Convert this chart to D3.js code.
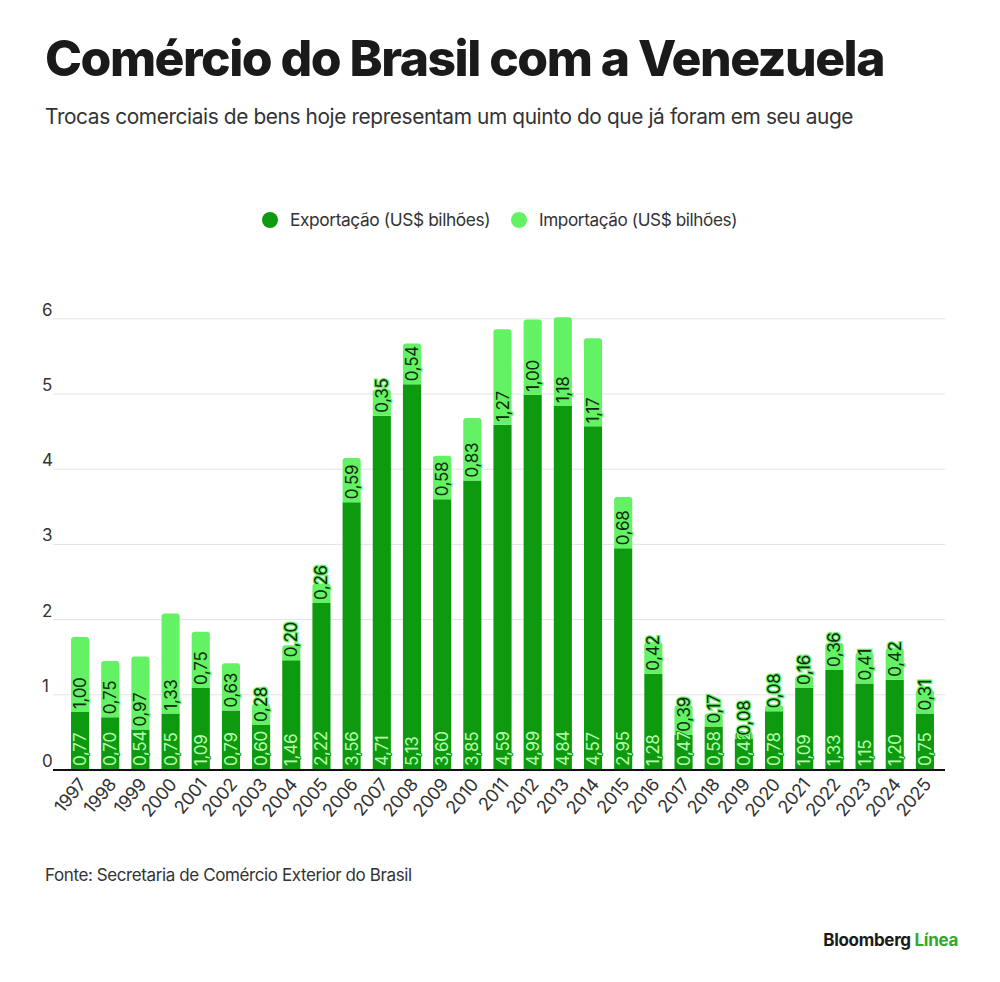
<!DOCTYPE html>
<html>
<head>
<meta charset="utf-8">
<script src="https://cdn.jsdelivr.net/npm/d3@7"></script>
<style>
  body { margin: 0; background: #fff; }
  svg { display: block; font-family: Inter, "Noto Sans", sans-serif; }
</style>
</head>
<body>
<svg id="chart" width="1000" height="982"></svg>
<script>
// data
var years = ['1997','1998','1999','2000','2001','2002','2003','2004','2005','2006','2007','2008','2009','2010','2011','2012','2013','2014','2015','2016','2017','2018','2019','2020','2021','2022','2023','2024','2025'];
var exportacao = [0.77,0.70,0.54,0.75,1.09,0.79,0.60,1.46,2.22,3.56,4.71,5.13,3.60,3.85,4.59,4.99,4.84,4.57,2.95,1.28,0.47,0.58,0.42,0.78,1.09,1.33,1.15,1.20,0.75];
var importacao = [1.00,0.75,0.97,1.33,0.75,0.63,0.28,0.20,0.26,0.59,0.35,0.54,0.58,0.83,1.27,1.00,1.18,1.17,0.68,0.42,0.39,0.17,0.08,0.08,0.16,0.36,0.41,0.42,0.31];
var yTicks = [0,1,2,3,4,5,6];
var seriesNames = ['Exportação (US$ bilhões)', 'Importação (US$ bilhões)'];

var darkGreen = '#0e9a0e', lightGreen = '#63f263';
var fmt = function(v) { return d3.format('.2f')(v).replace('.', ','); };

var svg = d3.select('#chart');

// title + subtitle
var title = svg.append('text')
	.attr('x', 45).attr('y', 76)
	.attr('font-size', 46).attr('font-weight', 800)
	.attr('letter-spacing', '-1.5px')
	.attr('fill', '#1a1a1a')
	.text('Comércio do Brasil com a Venezuela');
var tw = title.node().getComputedTextLength();
title.attr('font-size', 46 * 835 / tw);

var sub = svg.append('text')
	.attr('x', 45).attr('y', 124)
	.attr('font-size', 19).attr('letter-spacing', '-0.4px')
	.attr('fill', '#333')
	.text('Trocas comerciais de bens hoje representam um quinto do que já foram em seu auge');
var sw = sub.node().getComputedTextLength();
sub.attr('font-size', 19 * 805 / sw);

// legend
var legend = svg.append('g').attr('transform', 'translate(0,220)');
var legX = [270, 519];
seriesNames.forEach(function(name, i) {
	legend.append('circle').attr('cx', legX[i]).attr('cy', 0).attr('r', 8)
		.attr('fill', i === 0 ? darkGreen : lightGreen);
	var t = legend.append('text').attr('x', legX[i] + 20).attr('y', 6)
		.attr('font-size', 17).attr('fill', '#333').attr('letter-spacing', '-0.4px')
		.text(name);
	var lw = t.node().getComputedTextLength();
	t.attr('font-size', 17 * (i === 0 ? 200 : 198) / lw);
});

// scales
var x = d3.scaleBand().domain(years).range([65, 940]).paddingInner(0.4).paddingOuter(0.2);
var y = d3.scaleLinear().domain([0, 6]).range([770, 318.8]);

// grid + y labels
var grid = svg.append('g');
grid.selectAll('line').data(yTicks.slice(1)).enter().append('line')
	.attr('x1', 53).attr('x2', 945)
	.attr('y1', function(d) { return y(d); }).attr('y2', function(d) { return y(d); })
	.attr('stroke', '#e3e3e3').attr('stroke-width', 1);
grid.selectAll('text').data(yTicks).enter().append('text')
	.attr('x', 42).attr('y', function(d) { return y(d) - 3; })
	.attr('font-size', 17).attr('fill', '#333')
	.text(function(d) { return d; });

// stacked data
var rows = years.map(function(yr, i) { return { year: yr, exp: exportacao[i], imp: importacao[i] }; });
var stack = d3.stack().keys(['exp', 'imp'])(rows);

var layers = svg.append('g').selectAll('g').data(stack).enter().append('g')
	.attr('fill', function(d, i) { return i === 0 ? darkGreen : lightGreen; });
layers.selectAll('path').data(function(d) { return d; }).enter().append('path')
	.attr('d', function(d, j, nodes) {
		var layer = d3.select(nodes[j].parentNode).datum().key;
		var x0 = x(d.data.year), w = x.bandwidth();
		var top = y(d[1]), bot = y(d[0]);
		var r = layer === 'imp' ? Math.min(3, (bot - top) / 2) : 0;
		return 'M' + x0 + ',' + bot + 'L' + x0 + ',' + (top + r) +
			'Q' + x0 + ',' + top + ',' + (x0 + r) + ',' + top +
			'L' + (x0 + w - r) + ',' + top +
			'Q' + (x0 + w) + ',' + top + ',' + (x0 + w) + ',' + (top + r) +
			'L' + (x0 + w) + ',' + bot + 'Z';
	});

// baseline
svg.append('line').attr('x1', 53).attr('x2', 945).attr('y1', y(0)).attr('y2', y(0))
	.attr('stroke', '#111').attr('stroke-width', 2);

// value labels (rotated, reading upward)
var labels = svg.append('g').attr('font-size', 17).attr('letter-spacing', '-0.3px');
rows.forEach(function(d) {
	var cx = x(d.year) + x.bandwidth() / 2 + 6;
	labels.append('text')
		.attr('transform', 'translate(' + cx + ',' + (y(0) - 4) + ') rotate(-90)')
		.attr('fill', '#b8ffb0')
		.attr('stroke', darkGreen).attr('stroke-width', 2).attr('paint-order', 'stroke')
		.text(fmt(d.exp));
	labels.append('text')
		.attr('transform', 'translate(' + cx + ',' + (y(d.exp) - 3) + ') rotate(-90)')
		.attr('fill', '#10280f')
		.attr('stroke', lightGreen).attr('stroke-width', 2.5).attr('paint-order', 'stroke')
		.text(fmt(d.imp));
});

// x axis labels
var xAxis = svg.append('g').attr('transform', 'translate(0,' + y(0) + ')')
	.call(d3.axisBottom(x).tickSize(0).tickPadding(0));
xAxis.select('.domain').remove();
xAxis.selectAll('text')
	.attr('font-size', 18).attr('fill', '#333').attr('font-family', 'Inter, "Noto Sans", sans-serif')
	.attr('letter-spacing', '-0.4px')
	.attr('text-anchor', 'end')
	.attr('dy', 0)
	.attr('transform', 'translate(7,15) rotate(-50)');

// source + logo
svg.append('text').attr('x', 45).attr('y', 881)
	.attr('font-size', 17).attr('fill', '#333').attr('letter-spacing', '-0.4px')
	.text('Fonte: Secretaria de Comércio Exterior do Brasil');
var logo = svg.append('text').attr('x', 958).attr('y', 946).attr('text-anchor', 'end')
	.attr('font-size', 17).attr('font-weight', 700).attr('letter-spacing', '-0.3px');
logo.append('tspan').attr('fill', '#1a1a1a').text('Bloomberg ');
logo.append('tspan').attr('fill', '#2fa82f').text('Línea');
</script>
</body>
</html>
